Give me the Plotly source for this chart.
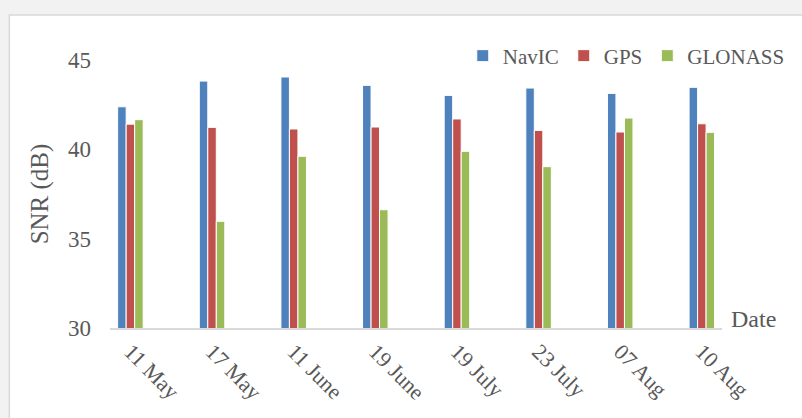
import plotly.graph_objects as go

# Mean SNR per observation date for each constellation
dates = ["11 May", "17 May", "11 June", "19 June", "19 July", "23 July", "07 Aug", "10 Aug"]
navic = [42.38, 43.82, 44.05, 43.58, 43.02, 43.43, 43.13, 43.47]
gps = [41.41, 41.23, 41.14, 41.25, 41.70, 41.06, 40.97, 41.43]
glonass = [41.66, 35.97, 39.61, 36.62, 39.89, 39.03, 41.75, 40.95]

y_ticks = [30, 35, 40, 45]

FONT = "'Liberation Serif', 'Times New Roman', 'DejaVu Serif', serif"
TEXT = "#595959"

W, H = 802, 418
ML, MR, MT, MB = 110, 78, 60, 90
PW, PH = W - ML - MR, H - MT - MB


def px_x(px):
    return (px - ML) / PW


def px_y(py):
    return (H - MB - py) / PH


fig = go.Figure()
series = [("NavIC", navic, "#4f81bd"), ("GPS", gps, "#c0504d"), ("GLONASS", glonass, "#9bbb59")]
for name, vals, col in series:
    fig.add_trace(go.Bar(
        x=dates, y=vals, name=name,
        marker=dict(color=col, line=dict(color="white", width=1)),
    ))

# White chart card on the grey page
fig.add_shape(
    type="rect", xref="paper", yref="paper", layer="below",
    x0=px_x(9), x1=px_x(W + 20), y0=px_y(15), y1=px_y(H + 20),
    fillcolor="white", line=dict(color="#d9d9d9", width=1.5),
)

fig.add_annotation(
    text="Date", xref="paper", yref="paper",
    x=px_x(731), y=px_y(319), xanchor="left", yanchor="middle",
    showarrow=False, font=dict(family=FONT, size=24, color=TEXT),
)

fig.update_layout(
    width=W, height=H, autosize=False,
    margin=dict(l=ML, r=MR, t=MT, b=MB),
    paper_bgcolor="#f2f2f2", plot_bgcolor="white",
    barmode="group", bargap=0.6875, bargroupgap=0.0,
    font=dict(family=FONT, color=TEXT),
    legend=dict(
        orientation="h", x=px_x(792), xanchor="right",
        y=px_y(56), yanchor="middle",
        font=dict(family=FONT, size=21, color=TEXT),
        bgcolor="rgba(0,0,0,0)", itemwidth=30, tracegroupgap=0,
    ),
    xaxis=dict(
        type="category", range=[-0.25, 7.247],
        showline=True, linecolor="#d9d9d9", linewidth=2,
        showgrid=False, ticks="", tickangle=45,
        tickfont=dict(family=FONT, size=22, color=TEXT),
    ),
    yaxis=dict(
        range=[30, 45], tickvals=y_ticks, showgrid=False, zeroline=False,
        showline=False, ticks="", ticklabelstandoff=18,
        tickfont=dict(family=FONT, size=23, color=TEXT),
        title=dict(text="SNR (dB)", standoff=12, font=dict(family=FONT, size=25, color=TEXT)),
    ),
)

fig.write_html("out.html")
